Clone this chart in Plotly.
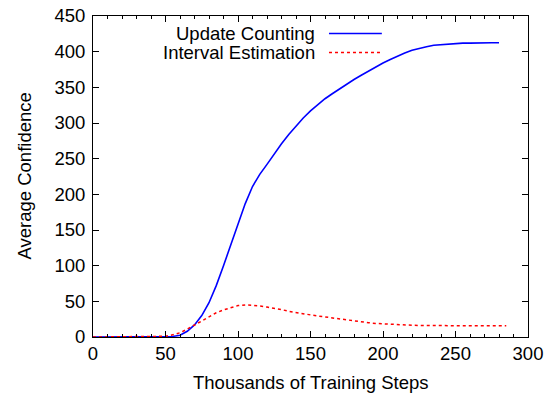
import plotly.graph_objects as go

# Data (thousands of training steps vs average confidence)
steps_uc = list(range(0, 285, 5))
update_counting = [0, 0, 0, 0, 0, 0, 0, 0, 0, 0,
                   0.2, 0.8, 2.5, 8, 17, 30, 48, 72, 100, 130,
                   159, 187, 211, 228, 242, 257, 271, 284, 296, 307,
                   317, 326, 334, 341, 348, 355, 361, 367, 373, 379,
                   384, 389, 394, 398, 402, 405, 407, 409, 410, 411,
                   411.5, 412, 412, 412.5, 412.5, 412.5, 412.5]

steps_ie = list(range(0, 290, 5))
interval_estimation = [0, 0, 0, 0, 0, 0, 0, 0, 0, 0.3,
                       1, 3, 6, 11, 17, 23, 29, 34, 38, 41.5,
                       44, 45, 44.5, 43.5, 42, 40.5, 38.5, 36, 34, 32.5,
                       31, 29.5, 28, 26.5, 25, 23.5, 22, 21, 20, 19,
                       18.3, 17.6, 17.2, 16.8, 16.5, 16.2, 16, 15.9, 15.8, 15.8,
                       15.8, 15.8, 15.8, 15.8, 15.8, 15.8, 15.8, 15.8]

series_names = ["Update Counting", "Interval Estimation"]
x_ticks = [0, 50, 100, 150, 200, 250, 300]
y_ticks = [0, 50, 100, 150, 200, 250, 300, 350, 400, 450]
x_title = "Thousands of Training Steps"
y_title = "Average Confidence"

FONT = "Liberation Sans, Arial, Helvetica, sans-serif"
FS = 18.5

fig = go.Figure()
fig.add_trace(go.Scatter(x=steps_uc, y=update_counting, mode="lines",
                         line=dict(color="#0000ff", width=1.6),
                         name=series_names[0], showlegend=False))
fig.add_trace(go.Scatter(x=steps_ie, y=interval_estimation, mode="lines",
                         line=dict(color="#ff0000", width=1.5, dash="3px,3px"),
                         name=series_names[1], showlegend=False))

# gnuplot-style legend: right-aligned text with sample line to the right
legend_rows = [(0.9455, "#0000ff", "solid"), (0.886, "#ff0000", "3px,3px")]
for name, (yp, col, dash) in zip(series_names, legend_rows):
    fig.add_annotation(x=0.515, y=yp, xref="paper", yref="paper",
                       text=name, showarrow=False, xanchor="right",
                       yanchor="middle", font=dict(family=FONT, size=FS, color="black"))
    fig.add_shape(type="line", xref="paper", yref="paper",
                  x0=0.5425, x1=0.664, y0=yp, y1=yp,
                  line=dict(color=col, width=1.5, dash=dash))

# axis titles
fig.add_annotation(x=0.5, y=-0.1433, xref="paper", yref="paper", text=x_title,
                   showarrow=False, xanchor="center", yanchor="middle",
                   font=dict(family=FONT, size=FS, color="black"))
fig.add_annotation(x=-0.1586, y=0.5, xref="paper", yref="paper", text=y_title,
                   showarrow=False, xanchor="center", yanchor="middle", textangle=-90,
                   font=dict(family=FONT, size=FS, color="black"))

axis_common = dict(showgrid=False, zeroline=False, showline=True, linecolor="black",
                   linewidth=1, mirror="ticks", ticks="inside", ticklen=6,
                   tickcolor="black", tickwidth=1, automargin=False,
                   tickfont=dict(family=FONT, size=FS, color="black"))

fig.update_xaxes(range=[0, 300], tickvals=x_ticks,
                 minor=dict(ticks="inside", ticklen=3, tickcolor="black", dtick=10, tick0=0),
                 **axis_common)
fig.update_yaxes(range=[0, 450], tickvals=y_ticks, ticklabelstandoff=3, **axis_common)

fig.update_layout(template="none", width=547, height=394,
                  margin=dict(l=93, r=19, t=16, b=57),
                  paper_bgcolor="white", plot_bgcolor="white",
                  font=dict(family=FONT, size=FS, color="black"))

fig.write_html("out.html")
